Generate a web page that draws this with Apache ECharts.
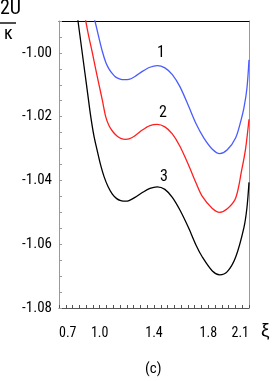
<!DOCTYPE html>
<html><head><meta charset="utf-8">
<script src="https://cdn.jsdelivr.net/npm/echarts@6/dist/echarts.min.js"></script>
<style>html,body{margin:0;padding:0;background:#fff}#c{width:273px;height:381px}</style>
</head><body><div id="c"></div>
<script>
// Curve 1 (blue)
const xi1 = [0.955,0.965,0.990,1.019,1.045,1.068,1.095,1.118,1.150,1.180,1.216,1.260,1.314,1.370,1.424,1.480,1.535,1.590,1.653,1.710,1.769,1.830,1.884,1.940,2.002,2.040,2.063,2.085,2.100];
const u1  = [-0.9883,-0.9900,-0.9945,-0.9995,-1.0030,-1.0050,-1.0066,-1.0076,-1.0082,-1.0084,-1.0083,-1.0074,-1.0058,-1.0045,-1.0040,-1.0047,-1.0068,-1.0105,-1.0165,-1.0222,-1.0268,-1.0302,-1.0316,-1.0304,-1.0266,-1.0213,-1.0172,-1.0110,-1.0022];
// Curve 2 (red)
const xi2 = [0.885,0.897,0.920,0.945,0.970,0.995,1.020,1.044,1.068,1.093,1.125,1.155,1.190,1.216,1.260,1.314,1.370,1.424,1.480,1.535,1.590,1.653,1.710,1.756,1.830,1.884,1.940,2.002,2.046,2.075,2.100];
const u2  = [-0.9875,-0.9900,-0.9950,-0.9998,-1.0050,-1.0100,-1.0150,-1.0200,-1.0228,-1.0245,-1.0260,-1.0268,-1.0271,-1.0270,-1.0260,-1.0242,-1.0228,-1.0224,-1.0232,-1.0254,-1.0292,-1.0350,-1.0408,-1.0450,-1.0488,-1.0500,-1.0489,-1.0455,-1.0368,-1.0300,-1.0208];
// Curve 3 (black)
const xi3 = [0.832,0.840,0.865,0.890,0.912,0.934,0.958,0.982,1.007,1.032,1.062,1.093,1.125,1.155,1.190,1.216,1.260,1.314,1.370,1.424,1.480,1.535,1.590,1.653,1.710,1.756,1.830,1.884,1.940,2.002,2.063,2.085,2.100];
const u3  = [-0.9875,-0.9900,-0.9980,-1.0060,-1.0130,-1.0200,-1.0262,-1.0307,-1.0352,-1.0388,-1.0420,-1.0443,-1.0457,-1.0463,-1.0465,-1.0463,-1.0453,-1.0438,-1.0425,-1.0420,-1.0428,-1.0453,-1.0492,-1.0547,-1.0603,-1.0640,-1.0684,-1.0696,-1.0686,-1.0640,-1.0547,-1.0485,-1.0406];
const curveNames = ['1','2','3'];
const labelPos = [[1.452,-1.0000],[1.466,-1.0188],[1.474,-1.0388]];
const xTickLabels = [0.7,1.0,1.4,1.8,2.1];
const yTickLabels = [-1.08,-1.06,-1.04,-1.02,-1.00];
const colors = ['#4a5cff','#ff1f1f','#000000'];

const FONT = '"Roboto Condensed","Liberation Sans",Arial,sans-serif';
const zip = (a,b)=>a.map((v,i)=>[v,b[i]]);
const series = [[xi1,u1],[xi2,u2],[xi3,u3]].map((p,i)=>({
  type:'line', data: zip(p[0],p[1]), smooth:0.3, showSymbol:false, clip:true,
  lineStyle:{color:colors[i], width:1.3}, itemStyle:{color:colors[i]},
  markPoint:{symbol:'circle', symbolSize:0, silent:true,
    data:[{coord:labelPos[i], value:curveNames[i]}],
    label:{show:true, position:'inside', formatter:curveNames[i], color:'#000', fontFamily:FONT, fontSize:16}}
}));

const chart = echarts.init(document.getElementById('c'));
chart.setOption({
  animation:false,
  grid:{left:59, top:21, right:24, bottom:73, show:false},
  xAxis:[{
    type:'value', min:0.7, max:2.1, interval:0.05,
    axisLine:{lineStyle:{color:'#555', width:1}},
    axisTick:{inside:true, length:3, lineStyle:{color:'#555'}},
    splitLine:{show:false},
    axisLabel:{margin:18, color:'#000', fontFamily:FONT, fontSize:14,
      alignMinLabel:'left', alignMaxLabel:'right',
      formatter:v=>{const s=v.toFixed(1); return (xTickLabels.some(t=>Math.abs(t-v)<1e-6))?s:'';}}
  },{
    type:'value', position:'top', min:0.7, max:2.1,
    axisLine:{show:true, lineStyle:{color:'#000', width:1}},
    axisTick:{show:false}, axisLabel:{show:false}, splitLine:{show:false}
  }],
  yAxis:[{
    type:'value', min:-1.08, max:-0.99, interval:0.005,
    axisLine:{show:true, lineStyle:{color:'#999', width:1}},
    axisTick:{inside:true, length:3, lineStyle:{color:'#999'}},
    splitLine:{show:false},
    axisLabel:{margin:7, color:'#000', fontFamily:FONT, fontSize:15,
      formatter:v=>(yTickLabels.some(t=>Math.abs(t-v)<1e-6))?v.toFixed(2):''}
  },{
    type:'value', position:'right', min:-1.08, max:-0.99,
    axisLine:{show:true, lineStyle:{color:'#999', width:1}},
    axisTick:{show:false}, axisLabel:{show:false}, splitLine:{show:false}
  }],
  series: series,
  graphic:[
    {type:'text', left:0, top:-1, style:{text:'2U', font:'20px '+FONT, fill:'#000'}},
    {type:'line', shape:{x1:0,y1:23,x2:16,y2:23}, style:{stroke:'#000', lineWidth:1.4}},
    {type:'text', left:4, top:25, style:{text:'κ', font:'18px '+FONT, fill:'#000'}},
    {type:'text', left:261, top:321, style:{text:'ξ', font:'19px "Liberation Sans",Arial,sans-serif', fill:'#000'}},
    {type:'text', left:145, top:362, style:{text:'(c)', font:'15px '+FONT, fill:'#000'}}
  ]
});
</script></body></html>
